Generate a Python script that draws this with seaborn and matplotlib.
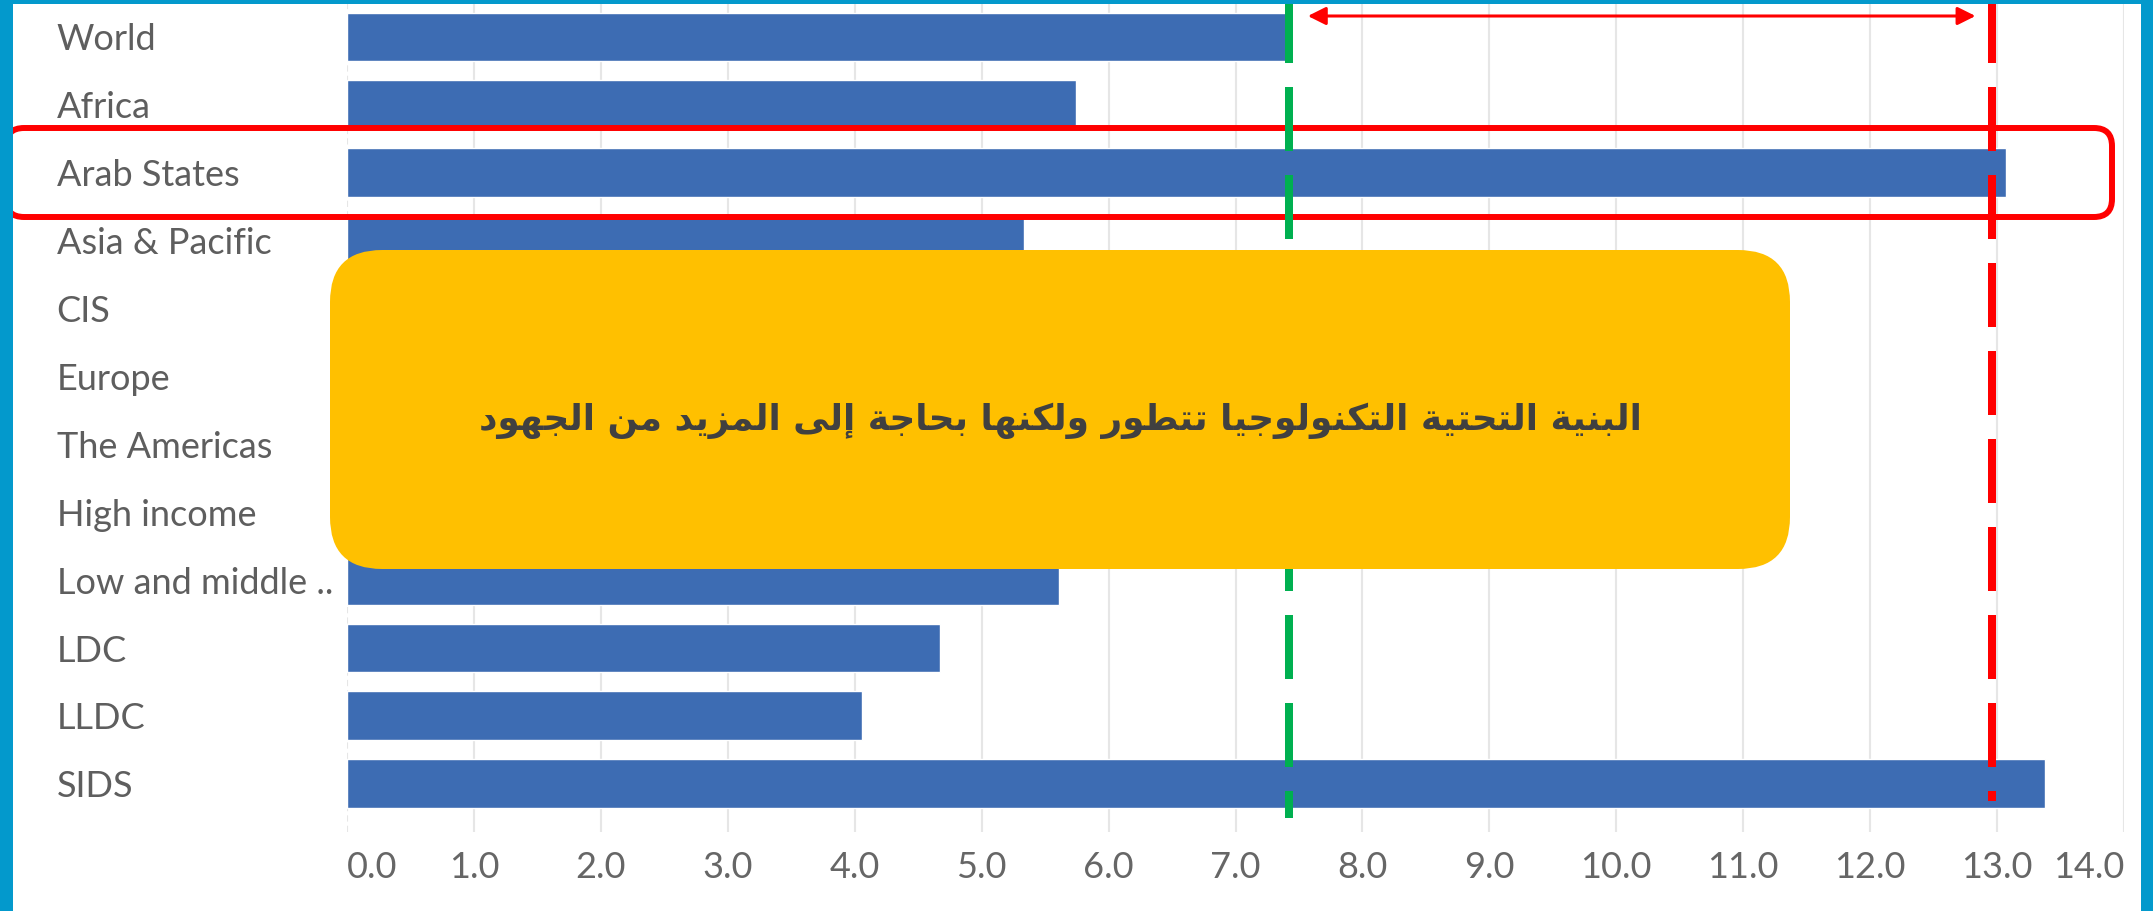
"""Horizontal bar chart of regions with reference lines and an Arabic callout box."""
import matplotlib
matplotlib.use("Agg")
import matplotlib.pyplot as plt
import matplotlib.transforms as mtransforms
from matplotlib.patches import FancyBboxPatch, Rectangle
import pandas as pd
import seaborn as sns

regions = ["World", "Africa", "Arab States", "Asia & Pacific", "CIS", "Europe",
           "The Americas", "High income", "Low and middle ..", "LDC", "LLDC", "SIDS"]
values = [7.42, 5.74, 13.07, 5.33, 6.1, 7.8, 7.0, 8.6, 5.61, 4.67, 4.06, 13.38]
x_ticks = list(range(15))
world_ref = values[0]
target_ref = 12.96
gap_arrow = (7.57, 12.83)
callout = "البنية التحتية التكنولوجيا تتطور ولكنها بحاجة إلى المزيد من الجهود"

BAR = "#3D6CB3"
BORDER = "#0399CC"
W, H, DPI = 2153, 911, 100

# presentation forms: isolated, final, initial, medial (matplotlib does no arabic shaping)
FORMS = {
    "\u0627": ("\uFE8D", "\uFE8E", None, None),
    "\u0625": ("\uFE87", "\uFE88", None, None),
    "\u0628": ("\uFE8F", "\uFE90", "\uFE91", "\uFE92"),
    "\u0629": ("\uFE93", "\uFE94", None, None),
    "\u062A": ("\uFE95", "\uFE96", "\uFE97", "\uFE98"),
    "\u062C": ("\uFE9D", "\uFE9E", "\uFE9F", "\uFEA0"),
    "\u062D": ("\uFEA1", "\uFEA2", "\uFEA3", "\uFEA4"),
    "\u062F": ("\uFEA9", "\uFEAA", None, None),
    "\u0631": ("\uFEAD", "\uFEAE", None, None),
    "\u0632": ("\uFEAF", "\uFEB0", None, None),
    "\u0637": ("\uFEC1", "\uFEC2", "\uFEC3", "\uFEC4"),
    "\u0643": ("\uFED9", "\uFEDA", "\uFEDB", "\uFEDC"),
    "\u0644": ("\uFEDD", "\uFEDE", "\uFEDF", "\uFEE0"),
    "\u0645": ("\uFEE1", "\uFEE2", "\uFEE3", "\uFEE4"),
    "\u0646": ("\uFEE5", "\uFEE6", "\uFEE7", "\uFEE8"),
    "\u0647": ("\uFEE9", "\uFEEA", "\uFEEB", "\uFEEC"),
    "\u0648": ("\uFEED", "\uFEEE", None, None),
    "\u0649": ("\uFEEF", "\uFEF0", None, None),
    "\u064A": ("\uFEF1", "\uFEF2", "\uFEF3", "\uFEF4"),
}


def shape_arabic(s):
    out = []
    for i, c in enumerate(s):
        if c not in FORMS:
            out.append(c)
            continue
        prev = s[i - 1] if i > 0 else ""
        nxt = s[i + 1] if i + 1 < len(s) else ""
        join_prev = prev in FORMS and FORMS[prev][2] is not None
        join_next = FORMS[c][2] is not None and nxt in FORMS
        iso, fin, ini, med = FORMS[c]
        if join_prev and join_next:
            out.append(med)
        elif join_prev:
            out.append(fin)
        elif join_next:
            out.append(ini)
        else:
            out.append(iso)
    return "".join(reversed(out))


sns.set_theme(style="white")
plt.rcParams["font.family"] = ["Lato", "DejaVu Sans"]

df = pd.DataFrame({"region": regions, "value": values})

fig = plt.figure(figsize=(W / DPI, H / DPI), dpi=DPI)
ax = fig.add_axes([347 / W, 1 - 832 / H, (2124 - 347) / W, (832 - 3) / H])

# pixel coords measured from the top-left corner of the image
px = mtransforms.Affine2D().scale(1, -1).translate(0, H)
x_px = mtransforms.blended_transform_factory(ax.transData, px)

sns.barplot(data=df, x="value", y="region", color=BAR, saturation=1, width=0.72,
            orient="h", ax=ax, zorder=2)

ax.set_xlim(0, 14)
ax.set_ylim(11.71, -0.5)
sns.despine(ax=ax, left=True, bottom=True)
ax.set_xlabel("")
ax.set_ylabel("")

for t in x_ticks:
    ax.axvline(t, color="#E6E6E6", lw=1.5, zorder=0.5, ls=(0, (3, 2)) if t == 0 else "-")

ax.set_xticks(x_ticks)
xl = ax.set_xticklabels([f"{t:.1f}" for t in x_ticks])
xl[0].set_horizontalalignment("left")
xl[-1].set_horizontalalignment("right")
ax.tick_params(axis="x", length=0, pad=14, labelsize=26, labelcolor="#666666")

ax.set_yticks(range(len(regions)))
yl = ax.set_yticklabels(regions)
for lab in yl:
    lab.set_horizontalalignment("left")
ax.tick_params(axis="y", length=0, pad=209, labelsize=26, labelcolor="#5E5E5E")

# red box round the Arab States row
ax.add_artist(FancyBboxPatch((6, 128), 2106, 89, boxstyle="round,pad=0,rounding_size=18",
                             transform=px, fc="none", ec="#FF0000", lw=4.3,
                             clip_on=False, zorder=3))

# reference lines
ax.plot([world_ref, world_ref], [-14, 818], transform=x_px, color="#00B050", lw=5.76,
        ls=(0, (8, 3)), solid_capstyle="butt", clip_on=False, zorder=4)
ax.plot([target_ref, target_ref], [-14, 801], transform=x_px, color="#FF0000", lw=5.76,
        ls=(0, (8, 3)), solid_capstyle="butt", clip_on=False, zorder=4)

ax.annotate("", xy=(gap_arrow[1], 16), xytext=(gap_arrow[0], 16), xycoords=x_px,
            textcoords=x_px,
            arrowprops=dict(arrowstyle="<|-|>", color="#FF0000", lw=2.2,
                            mutation_scale=27, shrinkA=0, shrinkB=0),
            annotation_clip=False, zorder=4)

# callout box
ax.add_artist(FancyBboxPatch((330, 250), 1460, 319, boxstyle="round,pad=0,rounding_size=52",
                             transform=px, fc="#FFC000", ec="none", clip_on=False, zorder=5))
txt = ax.text(1060, 421, shape_arabic(callout), transform=px, ha="center", va="center",
              fontsize=30, fontweight="bold", family=["DejaVu Sans"], color="#404040",
              zorder=6, clip_on=False)
r = fig.canvas.get_renderer()
width = txt.get_window_extent(r).width
txt.set_fontsize(30 * 1165 / width)

# frame
for x0, y0, w, h in [(0, 0, 12.7, H), (2141, 0, 12, H), (0, 0, W, 4)]:
    ax.add_artist(Rectangle((x0, y0), w, h, transform=px, fc=BORDER, ec="none",
                            clip_on=False, zorder=7))

fig.savefig("out.png", dpi=DPI)
